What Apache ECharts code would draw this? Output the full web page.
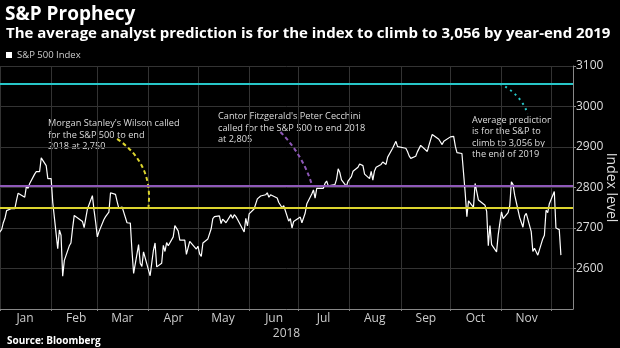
<!DOCTYPE html>
<html><head><meta charset="utf-8">
<script src="https://cdn.jsdelivr.net/npm/echarts@6/dist/echarts.min.js"></script>
<style>html,body{margin:0;padding:0;background:#000;}#c{width:620px;height:348px;}</style>
</head><body><div id="c"></div>
<script>
const dates = ['2017-12-29','2018-01-02','2018-01-03','2018-01-04','2018-01-05','2018-01-08','2018-01-09','2018-01-10','2018-01-11','2018-01-12','2018-01-16','2018-01-17','2018-01-18','2018-01-19','2018-01-22','2018-01-23','2018-01-24','2018-01-25','2018-01-26','2018-01-29','2018-01-30','2018-01-31',
'2018-02-01','2018-02-02','2018-02-05','2018-02-06','2018-02-07','2018-02-08','2018-02-09','2018-02-12','2018-02-13','2018-02-14','2018-02-15','2018-02-16','2018-02-20','2018-02-21','2018-02-22','2018-02-23','2018-02-26','2018-02-27','2018-02-28',
'2018-03-01','2018-03-02','2018-03-05','2018-03-06','2018-03-07','2018-03-08','2018-03-09','2018-03-12','2018-03-13','2018-03-14','2018-03-15','2018-03-16','2018-03-19','2018-03-20','2018-03-21','2018-03-22','2018-03-23','2018-03-26','2018-03-27','2018-03-28','2018-03-29',
'2018-04-02','2018-04-03','2018-04-04','2018-04-05','2018-04-06','2018-04-09','2018-04-10','2018-04-11','2018-04-12','2018-04-13','2018-04-16','2018-04-17','2018-04-18','2018-04-19','2018-04-20','2018-04-23','2018-04-24','2018-04-25','2018-04-26','2018-04-27','2018-04-30',
'2018-05-01','2018-05-02','2018-05-03','2018-05-04','2018-05-07','2018-05-08','2018-05-09','2018-05-10','2018-05-11','2018-05-14','2018-05-15','2018-05-16','2018-05-17','2018-05-18','2018-05-21','2018-05-22','2018-05-23','2018-05-24','2018-05-25','2018-05-29','2018-05-30','2018-05-31',
'2018-06-01','2018-06-04','2018-06-05','2018-06-06','2018-06-07','2018-06-08','2018-06-11','2018-06-12','2018-06-13','2018-06-14','2018-06-15','2018-06-18','2018-06-19','2018-06-20','2018-06-21','2018-06-22','2018-06-25','2018-06-26','2018-06-27','2018-06-28','2018-06-29',
'2018-07-02','2018-07-03','2018-07-05','2018-07-06','2018-07-09','2018-07-10','2018-07-11','2018-07-12','2018-07-13','2018-07-16','2018-07-17','2018-07-18','2018-07-19','2018-07-20','2018-07-23','2018-07-24','2018-07-25','2018-07-26','2018-07-27','2018-07-30','2018-07-31',
'2018-08-01','2018-08-02','2018-08-03','2018-08-06','2018-08-07','2018-08-08','2018-08-09','2018-08-10','2018-08-13','2018-08-14','2018-08-15','2018-08-16','2018-08-17','2018-08-20','2018-08-21','2018-08-22','2018-08-23','2018-08-24','2018-08-27','2018-08-28','2018-08-29','2018-08-30','2018-08-31',
'2018-09-04','2018-09-05','2018-09-06','2018-09-07','2018-09-10','2018-09-11','2018-09-12','2018-09-13','2018-09-14','2018-09-17','2018-09-18','2018-09-19','2018-09-20','2018-09-21','2018-09-24','2018-09-25','2018-09-26','2018-09-27','2018-09-28',
'2018-10-01','2018-10-02','2018-10-03','2018-10-04','2018-10-05','2018-10-08','2018-10-09','2018-10-10','2018-10-11','2018-10-12','2018-10-15','2018-10-16','2018-10-17','2018-10-18','2018-10-19','2018-10-22','2018-10-23','2018-10-24','2018-10-25','2018-10-26','2018-10-29','2018-10-30','2018-10-31',
'2018-11-01','2018-11-02','2018-11-05','2018-11-06','2018-11-07','2018-11-08','2018-11-09','2018-11-12','2018-11-13','2018-11-14','2018-11-15','2018-11-16','2018-11-19','2018-11-20','2018-11-21','2018-11-23','2018-11-26','2018-11-27','2018-11-28','2018-11-29','2018-11-30',
'2018-12-03','2018-12-04','2018-12-06','2018-12-07'];
const spx = [2674,2696,2713,2724,2743,2748,2751,2748,2768,2786,2776,2803,2798,2810,2833,2839,2838,2839,2873,2854,2822,2824,
2822,2762,2649,2695,2682,2581,2620,2656,2663,2699,2731,2732,2716,2701,2704,2747,2780,2744,2714,
2678,2691,2721,2728,2727,2739,2787,2783,2765,2749,2747,2752,2713,2717,2712,2644,2588,2659,2613,2605,2641,
2582,2614,2645,2663,2604,2613,2657,2642,2664,2656,2678,2706,2709,2693,2670,2670,2635,2639,2667,2670,2648,
2655,2636,2630,2663,2673,2672,2698,2723,2728,2730,2711,2722,2720,2713,2733,2724,2733,2728,2721,2690,2724,2705,
2735,2747,2749,2772,2770,2779,2782,2787,2776,2782,2780,2774,2763,2767,2750,2755,2717,2723,2700,2716,2718,
2727,2713,2737,2760,2784,2794,2774,2798,2801,2798,2810,2816,2804,2802,2807,2820,2846,2837,2819,2803,2816,
2813,2827,2840,2850,2858,2858,2854,2833,2822,2840,2818,2841,2850,2857,2863,2862,2857,2875,2897,2898,2914,2901,2902,
2897,2889,2878,2872,2877,2888,2889,2904,2905,2889,2904,2908,2931,2930,2919,2916,2906,2914,2914,
2925,2923,2926,2902,2886,2884,2880,2786,2728,2767,2751,2810,2809,2769,2768,2756,2741,2656,2706,2659,2641,2683,2712,
2740,2723,2738,2755,2814,2807,2781,2726,2722,2702,2730,2736,2691,2642,2650,2633,2673,2682,2744,2738,2760,
2790,2700,2696,2633];
const targets = [2750, 2805, 3056];
const targetColors = ['#dcd52e', '#8e58b8', '#27c6c8'];
const yTicks = [2500, 2600, 2700, 2800, 2900, 3000, 3100];
const monthNames = ['Jan','Feb','Mar','Apr','May','Jun','Jul','Aug','Sep','Oct','Nov',''];

const chart = echarts.init(document.getElementById('c'));
const font = '"Open Sans", "Noto Sans", sans-serif';
const series = [{
  name: 'S&P 500 Index', type: 'line', showSymbol: false, clip: true,
  data: dates.map((d, i) => [d, spx[i]]),
  lineStyle: { color: '#ffffff', width: 1.2 }, itemStyle: { color: '#ffffff' },
  markLine: {
    silent: true, symbol: 'none', label: { show: false },
    data: targets.map((v, i) => ({ yAxis: v, lineStyle: { color: targetColors[i], width: 2, type: 'solid' } }))
  }
}, {
  type: 'lines', coordinateSystem: 'cartesian2d', silent: true, z: 3,
  data: [
    { coords: [['2018-03-13', 2920], ['2018-04-01', 2752]], lineStyle: { color: targetColors[0], type: [4, 3], width: 2, opacity: 1, curveness: 0.3 } },
    { coords: [['2018-06-20', 2937], ['2018-07-09', 2808]], lineStyle: { color: targetColors[1], type: [4, 3], width: 2, opacity: 1, curveness: 0.12 } },
    { coords: [['2018-10-31', 3056], ['2018-11-17', 2982]], lineStyle: { color: targetColors[2], type: [2, 4], width: 2, opacity: 1, curveness: 0.2 } }
  ]
}];

chart.setOption({
  backgroundColor: '#000000',
  animation: false,
  textStyle: { fontFamily: font },
  title: [
    { text: 'S&P Prophecy', left: 0, top: 0, textStyle: { color: '#fff', fontSize: 19, fontWeight: 'bold', fontFamily: font } },
    { text: 'The average analyst prediction is for the index to climb to 3,056 by year-end 2019', left: 1, top: 21, textStyle: { color: '#fff', fontSize: 15, fontWeight: 'bold', fontFamily: font } },
    { text: 'Source: Bloomberg', left: 2, top: 331, textStyle: { color: '#fff', fontSize: 10, fontWeight: 'bold', fontFamily: font } }
  ],
  legend: {
    data: ['S&P 500 Index'], left: 1, top: 45, icon: 'rect', itemWidth: 6, itemHeight: 6, itemGap: 4,
    textStyle: { color: '#ccc', fontSize: 9.5, fontFamily: font }
  },
  grid: { left: 0, right: 47, top: 66, bottom: 39, containLabel: false, outerBoundsMode: 'none' },
  xAxis: {
    type: 'time',
    min: new Date(2018, 0, 1).getTime(),
    max: new Date(2018, 11, 14, 8).getTime(),
    splitNumber: 12,
    minInterval: 28 * 86400000, maxInterval: 31 * 86400000,
    name: '2018', nameLocation: 'middle', nameGap: 19, nameMoveOverlap: false,
    nameTextStyle: { color: '#ccc', fontSize: 12, fontFamily: font },
    axisLine: { show: true, lineStyle: { color: '#888', width: 1 } },
    axisTick: { show: true, length: 2, lineStyle: { color: '#888' } },
    splitLine: { show: true, lineStyle: { color: '#333', width: 1 } },
    axisLabel: {
      show: true, interval: 0, hideOverlap: false, showMinLabel: true, margin: 4,
      formatter: function (v) { const m = monthNames[new Date(v).getMonth()]; return m ? '{m|' + m + '}' : ''; },
      rich: { m: { color: '#ccc', fontSize: 12, fontFamily: font, padding: [0, 0, 0, 50] } }
    }
  },
  yAxis: {
    type: 'value', position: 'right', min: 2500, max: 3100, interval: 100,
    name: 'Index level', nameLocation: 'middle', nameRotate: -90, nameGap: 31, nameMoveOverlap: false,
    nameTextStyle: { color: '#ddd', fontSize: 14, fontFamily: font },
    axisLine: { show: true, lineStyle: { color: '#888' } },
    axisTick: { show: true, inside: false, length: 3, lineStyle: { color: '#888' } },
    splitLine: { show: true, lineStyle: { color: '#333', width: 1 } },
    axisLabel: { color: '#ddd', fontSize: 12, margin: 3, showMinLabel: false, fontFamily: font,
      formatter: function (v) { return yTicks.indexOf(v) > 0 ? String(v) : ''; } }
  },
  graphic: [
    { type: 'text', left: 48, top: 118, style: { text: "Morgan Stanley's Wilson called\nfor the S&P 500 to end\n2018 at 2,750", fill: '#ddd', font: '9.2px ' + font, lineHeight: 11.5 } },
    { type: 'text', left: 218, top: 111, style: { text: "Cantor Fitzgerald's Peter Cecchini\ncalled for the S&P 500 to end 2018\nat 2,805", fill: '#ddd', font: '9.2px ' + font, lineHeight: 11.5 } },
    { type: 'text', left: 472, top: 115, style: { text: "Average prediction\nis for the S&P to\nclimb to 3,056 by\nthe end of 2019", fill: '#ddd', font: '9.2px ' + font, lineHeight: 11.2 } }
  ],
  series: series
});
</script></body></html>
